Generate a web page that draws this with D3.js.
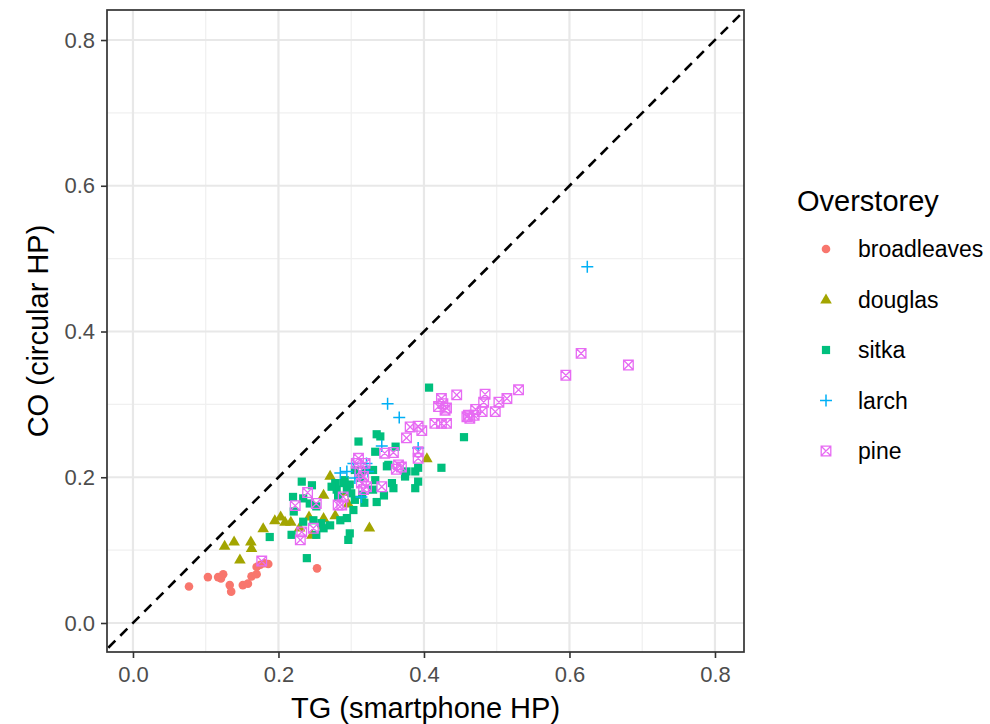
<!DOCTYPE html>
<html><head><meta charset="utf-8">
<script src="https://cdn.jsdelivr.net/npm/d3@7"></script>
<style>body{margin:0;background:#fff}svg{display:block}</style>
</head><body><svg id="c" width="990" height="724"></svg>
<script>
const seriesNames = ["broadleaves","douglas","sitka","larch","pine"];
const seriesColors = ["#F8766D","#A3A500","#00BF7D","#00B0F6","#E76BF3"];
const seriesShapes = ["circle","triangle","square","plus","boxx"];

const broadleaves = [[0.077,0.050],[0.103,0.063],[0.117,0.063],[0.124,0.067],[0.121,0.061],[0.133,0.052],[0.135,0.043],[0.151,0.052],[0.158,0.054],[0.163,0.064],[0.170,0.067],[0.170,0.077],[0.175,0.080],[0.181,0.082],[0.186,0.081],[0.253,0.075],[0.259,0.134]];
const douglas = [[0.126,0.106],[0.139,0.112],[0.147,0.087],[0.162,0.112],[0.163,0.103],[0.179,0.130],[0.195,0.141],[0.203,0.146],[0.209,0.139],[0.217,0.139],[0.229,0.131],[0.242,0.146],[0.262,0.144],[0.278,0.148],[0.246,0.121],[0.271,0.202],[0.262,0.176],[0.294,0.180],[0.296,0.164],[0.325,0.131],[0.404,0.226]];
const sitka = [[0.232,0.194],[0.220,0.173],[0.234,0.171],[0.246,0.189],[0.243,0.164],[0.252,0.160],[0.221,0.153],[0.234,0.139],[0.248,0.141],[0.259,0.137],[0.271,0.134],[0.285,0.141],[0.218,0.121],[0.252,0.121],[0.262,0.130],[0.188,0.118],[0.239,0.089],[0.278,0.192],[0.280,0.183],[0.289,0.192],[0.294,0.183],[0.282,0.173],[0.291,0.196],[0.298,0.190],[0.303,0.155],[0.294,0.144],[0.298,0.123],[0.296,0.114],[0.330,0.210],[0.333,0.196],[0.330,0.183],[0.335,0.166],[0.356,0.192],[0.358,0.185],[0.351,0.217],[0.376,0.208],[0.374,0.201],[0.388,0.208],[0.388,0.185],[0.392,0.194],[0.349,0.215],[0.310,0.249],[0.335,0.259],[0.340,0.256],[0.333,0.235],[0.361,0.242],[0.407,0.323],[0.455,0.255],[0.424,0.213],[0.392,0.213],[0.273,0.187],[0.312,0.199],[0.319,0.210],[0.305,0.169],[0.315,0.176],[0.305,0.210],[0.300,0.178],[0.318,0.165],[0.345,0.175]];
const larch = [[0.6245,0.489],[0.350,0.301],[0.366,0.282],[0.342,0.243],[0.392,0.240],[0.285,0.206],[0.294,0.208],[0.303,0.219],[0.321,0.219],[0.323,0.208],[0.305,0.199],[0.314,0.173]];
const pine = [[0.616,0.370],[0.681,0.354],[0.595,0.340],[0.530,0.320],[0.514,0.308],[0.503,0.303],[0.498,0.290],[0.484,0.314],[0.482,0.303],[0.480,0.290],[0.471,0.293],[0.469,0.285],[0.461,0.285],[0.463,0.281],[0.459,0.283],[0.445,0.313],[0.431,0.295],[0.424,0.308],[0.426,0.301],[0.420,0.297],[0.429,0.292],[0.415,0.274],[0.424,0.274],[0.431,0.274],[0.381,0.269],[0.392,0.270],[0.397,0.264],[0.376,0.254],[0.392,0.235],[0.392,0.226],[0.369,0.214],[0.346,0.233],[0.358,0.234],[0.365,0.217],[0.362,0.211],[0.310,0.226],[0.307,0.219],[0.319,0.219],[0.312,0.208],[0.317,0.201],[0.314,0.192],[0.321,0.187],[0.317,0.183],[0.342,0.187],[0.289,0.173],[0.287,0.162],[0.240,0.179],[0.223,0.161],[0.252,0.164],[0.282,0.162],[0.248,0.130],[0.230,0.114],[0.232,0.125],[0.177,0.085]];
const seriesData = [broadleaves, douglas, sitka, larch, pine];

const majorTicks = [0.0,0.2,0.4,0.6,0.8];
const minorTicks = [0.1,0.3,0.5,0.7];
const xDomain = [-0.0357, 0.8399];
const yDomain = [-0.0398, 0.8412];

const svg = d3.select("#c");
const L=107, R=744, T=10, B=652;
const x = d3.scaleLinear().domain(xDomain).range([L,R]);
const y = d3.scaleLinear().domain(yDomain).range([B,T]);

svg.append("rect").attr("x",L).attr("y",T).attr("width",R-L).attr("height",B-T).attr("fill","#fff");
const grid = svg.append("g");
minorTicks.forEach(v=>{
  grid.append("line").attr("x1",x(v)).attr("x2",x(v)).attr("y1",T).attr("y2",B).attr("stroke","#f0f0f0").attr("stroke-width",1.2);
  grid.append("line").attr("y1",y(v)).attr("y2",y(v)).attr("x1",L).attr("x2",R).attr("stroke","#f0f0f0").attr("stroke-width",1.2);
});
majorTicks.forEach(v=>{
  grid.append("line").attr("x1",x(v)).attr("x2",x(v)).attr("y1",T).attr("y2",B).attr("stroke","#e8e8e8").attr("stroke-width",2.2);
  grid.append("line").attr("y1",y(v)).attr("y2",y(v)).attr("x1",L).attr("x2",R).attr("stroke","#e8e8e8").attr("stroke-width",2.2);
});

svg.append("clipPath").attr("id","clip").append("rect").attr("x",L).attr("y",T).attr("width",R-L).attr("height",B-T);

function shapePath(s){
  if(s==="circle") return d3.symbol(d3.symbolCircle, 58)();
  if(s==="triangle") return "M0,-6L5.8,4L-5.8,4Z";
  if(s==="square") return "M-4.1,-4.1H4.1V4.1H-4.1Z";
  if(s==="plus") return "M-6,0H6M0,-6V6";
  if(s==="boxx") return "M-4.8,-4.8H4.8V4.8H-4.8ZM-4.8,-4.8L4.8,4.8M4.8,-4.8L-4.8,4.8";
}
function styleShape(sel, s, col){
  if(s==="plus"||s==="boxx"){
    sel.attr("fill","none").attr("stroke",col).attr("stroke-width",s==="plus"?1.5:1.3);
  } else sel.attr("fill",col).attr("stroke","none");
}

const pts = svg.append("g").attr("clip-path","url(#clip)");
seriesData.forEach((data,i)=>{
  const s = seriesShapes[i];
  const sel = pts.selectAll(null).data(data).enter().append("path")
    .attr("d",shapePath(s))
    .attr("transform",d=>`translate(${x(d[0])},${y(d[1])})`);
  styleShape(sel, s, seriesColors[i]);
});

// y = x reference line
pts.append("line").attr("x1",x(-0.1)).attr("y1",y(-0.1)).attr("x2",x(1)).attr("y2",y(1))
  .attr("stroke","#000").attr("stroke-width",2.6).attr("stroke-dasharray","10,7");

svg.append("rect").attr("x",L).attr("y",T).attr("width",R-L).attr("height",B-T)
  .attr("fill","none").attr("stroke","#333").attr("stroke-width",1.7);

const font = "'Liberation Sans', Arial, sans-serif";
const xAxis = d3.axisBottom(x).tickValues(majorTicks).tickFormat(d3.format(".1f")).tickSize(6).tickPadding(8);
const yAxis = d3.axisLeft(y).tickValues(majorTicks).tickFormat(d3.format(".1f")).tickSize(6).tickPadding(6);
const gx = svg.append("g").attr("transform",`translate(0,${B})`).call(xAxis);
const gy = svg.append("g").attr("transform",`translate(${L},0)`).call(yAxis);
[gx,gy].forEach(g=>{
  g.select(".domain").remove();
  g.selectAll(".tick line").attr("stroke","#333").attr("stroke-width",1.6);
  g.selectAll(".tick text").attr("fill","#4d4d4d").style("font-family",font).style("font-size","22px");
});

svg.append("text").attr("x",(L+R)/2).attr("y",718).attr("text-anchor","middle")
  .style("font-family",font).style("font-size","29px").attr("fill","#000").text("TG (smartphone HP)");
svg.append("text").attr("transform",`translate(48,${(T+B)/2}) rotate(-90)`).attr("text-anchor","middle")
  .style("font-family",font).style("font-size","29px").attr("fill","#000").text("CO (circular HP)");

// legend
const lg = svg.append("g");
lg.append("text").attr("x",797).attr("y",211).style("font-family",font).style("font-size","29px").attr("fill","#000").text("Overstorey");
seriesNames.forEach((n,i)=>{
  const cy = 249 + i*50.5;
  const p = lg.append("path").attr("d",shapePath(seriesShapes[i])).attr("transform",`translate(826,${cy})`);
  styleShape(p, seriesShapes[i], seriesColors[i]);
  lg.append("text").attr("x",858).attr("y",cy+8).style("font-family",font).style("font-size","23px").attr("fill","#000").text(n);
});
</script></body></html>
